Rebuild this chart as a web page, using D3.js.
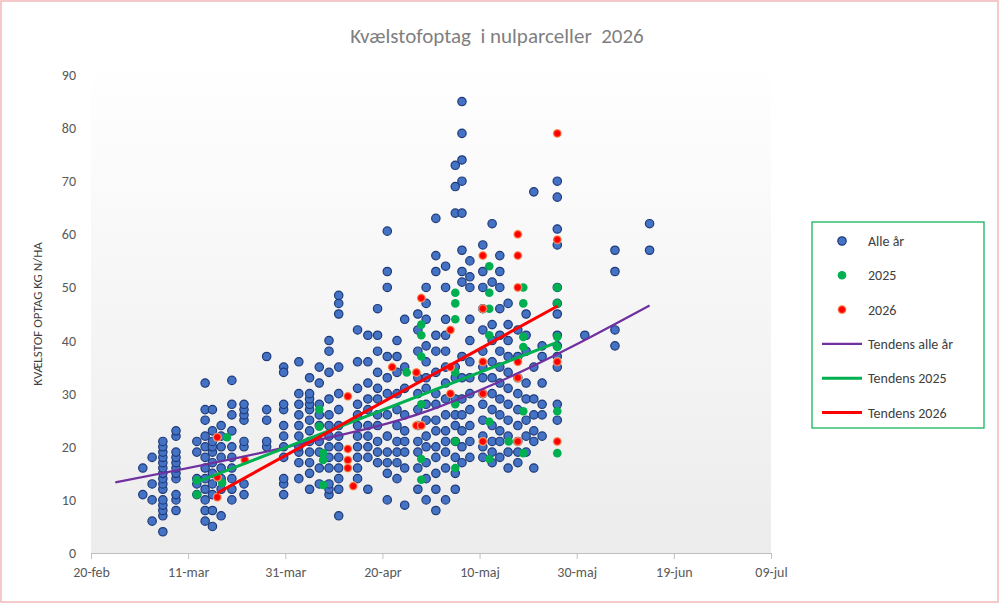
<!DOCTYPE html>
<html><head><meta charset="utf-8">
<script src="https://cdn.jsdelivr.net/npm/d3@7"></script>
<style>body{margin:0;background:#fff}svg{display:block}</style>
</head><body><div id="chart"></div>
<script>
// days counted from 20-feb
const blueDays = [10.7, 12.6, 14.8, 17.5, 21.8, 23.5, 25, 26.8, 29, 31.5, 36.2, 39.7, 42.8, 45, 47, 49, 51, 54.9, 57, 59, 61, 63, 64.6, 67.3, 69, 71, 73, 75, 76.4, 78, 80.7, 82.6, 84.2, 85.9, 87.9, 89.6, 91.2, 92.9, 96, 101.7, 107.9, 115];
const blueValues = [
  [16, 11], [6, 10, 13, 18], [4, 7, 8, 9, 10, 12, 13, 14, 15, 16, 17, 18, 19, 20, 21], [8, 10, 11, 14, 15, 16, 17, 18, 19, 22, 23],
  [11, 13, 14, 19, 21], [6, 8, 10, 12, 14, 16, 18, 20, 22, 25, 27, 32], [5, 8, 11, 13, 15, 17, 19, 20, 21, 23, 27], [7, 12, 14, 16, 18, 20, 22, 24],
  [10, 12, 14, 16, 18, 20, 23, 26, 28, 32.5], [11, 13, 20, 21, 25, 26, 27, 28], [20, 21, 25, 27, 37], [11, 13, 14, 18, 20, 22, 24, 27, 28, 35, 34],
  [14, 17, 19, 20, 22, 24, 26, 28, 30, 36], [12, 15, 17, 19, 21, 23, 25, 27, 28, 29, 30, 33], [13, 16, 19, 21, 24, 26, 28, 32, 35],
  [11, 12, 13, 16, 18, 20, 22, 24, 26, 29, 34, 38, 40], [7, 12, 14, 16, 18, 20, 22, 24, 27, 30, 35, 45, 47, 48.5], [14, 16, 18, 20, 22, 24, 26, 28, 31, 36, 42],
  [12, 18, 20, 22, 24, 27, 29, 32, 36, 41], [17, 19, 21, 24, 26, 29, 31, 34, 38, 41, 46], [10, 15, 17, 19, 22, 26, 30, 33, 37, 50, 53, 60.6],
  [14, 17, 19, 21, 24, 27, 30, 34, 37, 40], [9, 16, 19, 21, 23, 26, 31, 35, 44], [12, 16, 19, 21, 24, 27, 30, 33, 38, 42, 45],
  [10, 14, 17, 20, 22, 25, 28, 31, 33, 36, 39, 44, 47, 50], [8, 12, 15, 18, 20, 23, 25, 28, 30, 34, 38, 41, 53, 56, 63],
  [10, 16, 19, 21, 23, 26, 29, 32, 35, 38, 41, 44, 50, 54], [12, 15, 18, 21, 24, 26, 29, 33, 35, 64, 69, 73],
  [17, 20, 23, 26, 29, 33, 37, 51, 53, 57, 64, 70, 74, 79, 85], [18, 21, 24, 27, 30, 33, 36, 40, 44, 50, 52, 55],
  [18, 20, 22, 25, 28, 30, 33, 35, 38, 42, 46, 50, 53, 58], [17, 19, 21, 24, 27, 30, 33, 36, 40, 43, 51, 62],
  [18, 21, 23, 26, 29, 32, 35, 38, 41, 46, 50, 53, 56], [16, 19, 22, 25, 28, 31, 34, 37, 40, 43, 47], [17, 19, 21, 24, 27, 30, 33, 37, 42],
  [19, 22, 25, 29, 32, 38, 41, 45], [16, 21, 23, 26, 29, 35, 68], [22, 26, 28, 32, 37, 39],
  [25, 28, 35, 37, 39, 41, 45, 47, 50, 58, 61, 67, 70], [41], [39, 42, 53, 57], [57, 62]
];
const greenDays = [21.8, 27, 28, 47, 47.8, 65, 68, 75, 82, 86, 89, 96];
const greenValues = [[13.7, 11], [13.2], [21.8], [27, 23.8], [18.8, 17.5, 12.8], [34], [43, 41, 37, 28, 17.7, 13.8],
  [49, 47, 44, 34, 28, 21, 16], [54, 49, 46, 41, 24.7, 17.7], [21], [50, 47, 40.7, 38.8, 26.7, 18.8], [50, 47, 40.7, 38.8, 26.7, 18.8]];
const redDays = [26, 31.7, 52.9, 54, 62, 67, 68, 74, 80.7, 87.9, 96];
const redValues = [[21.8, 14.3, 10.5], [17.5], [29.5, 19.6, 17.5, 16], [12.6], [35], [34, 24], [48, 24], [42, 35, 30],
  [56, 46, 36, 30, 21], [60, 56, 50, 36, 33, 21], [79, 59, 36, 21]];
const trendAllDays = [5, 40, 69.8, 84.2, 115];
const trendAllVals = [13.3, 19.9, 26.9, 32.3, 46.6];
const trend25Days = [21.4, 96.1], trend25Vals = [13.2, 39.7];
const trend26Days = [26, 96.1], trend26Vals = [11.3, 46.5];
const yTicks = d3.range(0, 91, 10);
const legendLabels = ["Alle år", "2025", "2026", "Tendens alle år", "Tendens 2025", "Tendens 2026"];

const W = 999, H = 603;
const font = "Calibri, Carlito, 'Open Sans', sans-serif";
const day = d => new Date(2024, 1, 20 + Math.floor(d), (d % 1) * 24);
const x = d3.scaleTime().domain([new Date(2024, 1, 20), new Date(2024, 6, 9)]).range([91, 771]);
const y = d3.scaleLinear().domain([0, 90]).range([553, 75]);

const svg = d3.select("#chart").append("svg").attr("width", W).attr("height", H)
  .style("font-family", font);
const defs = svg.append("defs");
const grad = defs.append("linearGradient").attr("id", "bg").attr("x1", 0).attr("y1", 0).attr("x2", 0).attr("y2", 1);
grad.append("stop").attr("offset", "0%").attr("stop-color", "#ffffff");
grad.append("stop").attr("offset", "100%").attr("stop-color", "#ececec");
const glow = defs.append("radialGradient").attr("id", "glow");
glow.append("stop").attr("offset", "55%").attr("stop-color", "#ff0000");
glow.append("stop").attr("offset", "100%").attr("stop-color", "#f8b878");

svg.append("rect").attr("x", 1).attr("y", 1).attr("width", W - 2).attr("height", H - 2)
  .attr("fill", "#fff").attr("stroke", "#f2b8b8").attr("stroke-width", 1.5);
svg.append("rect").attr("x", 91).attr("y", 60).attr("width", 680).attr("height", 493).attr("fill", "url(#bg)");

svg.append("text").attr("x", 497).attr("y", 43).attr("text-anchor", "middle")
  .attr("font-size", 21).attr("fill", "#7f7f7f").attr("xml:space", "preserve").text("Kvælstofoptag  i nulparceller  2026");

// y labels
svg.append("g").selectAll("text").data(yTicks).join("text")
  .attr("x", 76).attr("y", d => y(d) + 5).attr("text-anchor", "end")
  .attr("font-size", 14).attr("fill", "#595959").text(d => d);
svg.append("text").attr("transform", "translate(42,314) rotate(-90)").attr("text-anchor", "middle")
  .attr("font-size", 13).attr("fill", "#404040").text("KVÆLSTOF OPTAG KG N/HA");

// x axis
const xAxis = d3.axisBottom(x).tickSize(6)
  .tickValues(d3.range(0, 141, 20).map(d => new Date(2024, 1, 20 + d)))
  .tickFormat(d => d3.timeFormat("%d")(d) + "-" + ["jan","feb","mar","apr","maj","jun","jul"][d.getMonth()]);
const gx = svg.append("g").attr("transform", "translate(0,553)").call(xAxis);
gx.select(".domain").attr("stroke", "#bfbfbf");
gx.selectAll(".tick line").attr("stroke", "#bfbfbf");
gx.selectAll("text").attr("font-size", 14).attr("fill", "#595959").attr("dy", "1.1em")
  .style("font-family", font);

const flat = (days, vals) => days.flatMap((d, i) => vals[i].map(v => [d, v]));
const g = svg.append("g");
g.selectAll(".b").data(flat(blueDays, blueValues)).join("circle")
  .attr("cx", d => x(day(d[0]))).attr("cy", d => y(d[1])).attr("r", 4.2)
  .attr("fill", "#4472c4").attr("stroke", "#1f3a78").attr("stroke-width", 1.2);
g.selectAll(".g").data(flat(greenDays, greenValues)).join("circle")
  .attr("cx", d => x(day(d[0]))).attr("cy", d => y(d[1])).attr("r", 4.3).attr("fill", "#00b050");
g.selectAll(".r").data(flat(redDays, redValues)).join("circle")
  .attr("cx", d => x(day(d[0]))).attr("cy", d => y(d[1])).attr("r", 4.5).attr("fill", "url(#glow)");

const line = d3.line().x(d => x(day(d[0]))).y(d => y(d[1])).curve(d3.curveMonotoneX);
const trends = [[trendAllDays, trendAllVals, "#7030a0", 2.2], [trend25Days, trend25Vals, "#00b050", 3], [trend26Days, trend26Vals, "#ff0000", 3]];
trends.forEach(([ds, vs, c, w]) => {
  svg.append("path").attr("d", line(ds.map((d, i) => [d, vs[i]]))).attr("fill", "none")
    .attr("stroke", c).attr("stroke-width", w);
});

// legend
const lg = svg.append("g");
lg.append("rect").attr("x", 812).attr("y", 222).attr("width", 172).attr("height", 206)
  .attr("fill", "#fff").attr("stroke", "#00b050").attr("stroke-width", 1.2);
legendLabels.forEach((t, i) => {
  const yy = 241 + i * 34.3;
  if (i === 0) lg.append("circle").attr("cx", 842).attr("cy", yy).attr("r", 4.2).attr("fill", "#4472c4").attr("stroke", "#1f3a78").attr("stroke-width", 1.2);
  if (i === 1) lg.append("circle").attr("cx", 842).attr("cy", yy).attr("r", 4.3).attr("fill", "#00b050");
  if (i === 2) lg.append("circle").attr("cx", 842).attr("cy", yy).attr("r", 4.5).attr("fill", "url(#glow)");
  if (i > 2) lg.append("line").attr("x1", 822).attr("x2", 862).attr("y1", yy).attr("y2", yy)
    .attr("stroke", trends[i - 3][2]).attr("stroke-width", trends[i - 3][3]);
  lg.append("text").attr("x", 868).attr("y", yy + 5).attr("font-size", 14).attr("fill", "#404040").text(t);
});
</script></body></html>
